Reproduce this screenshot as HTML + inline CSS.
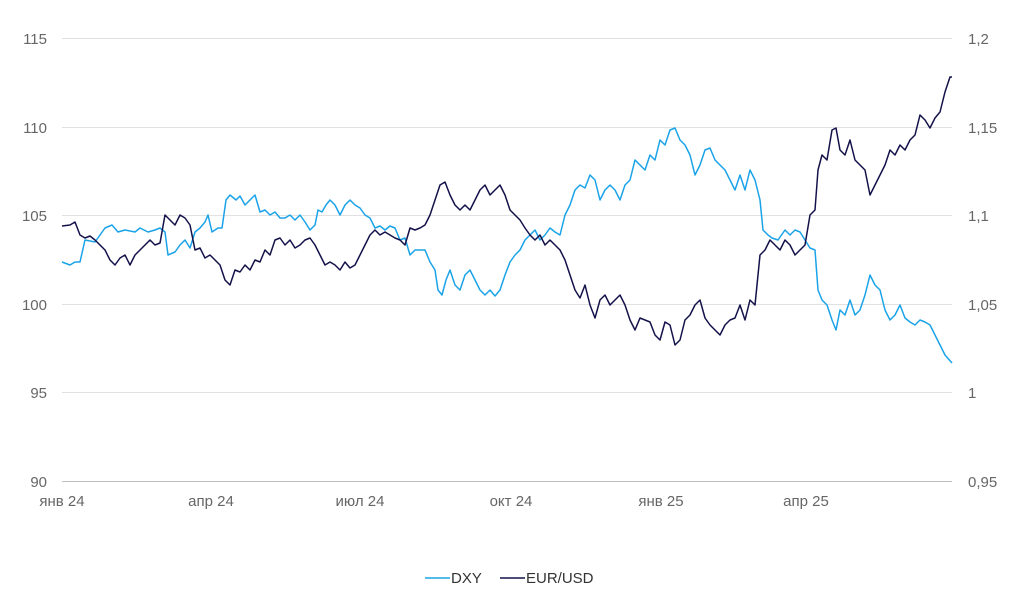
<!DOCTYPE html>
<html><head><meta charset="utf-8"><style>
html,body{margin:0;padding:0;background:#fff;}
svg{display:block;font-family:"Liberation Sans",sans-serif;}
</style></head><body>
<svg width="1024" height="600" viewBox="0 0 1024 600">
<g stroke="#e1e1e1" stroke-width="1">
<line x1="62" x2="952" y1="38.5" y2="38.5"/>
<line x1="62" x2="952" y1="127.5" y2="127.5"/>
<line x1="62" x2="952" y1="215.5" y2="215.5"/>
<line x1="62" x2="952" y1="304.5" y2="304.5"/>
<line x1="62" x2="952" y1="392.5" y2="392.5"/>
</g>
<line x1="62" x2="952" y1="481.5" y2="481.5" stroke="#bfbfbf"/>
<g fill="#666" font-size="15">
<text x="47" y="44" text-anchor="end">115</text>
<text x="47" y="133" text-anchor="end">110</text>
<text x="47" y="221" text-anchor="end">105</text>
<text x="47" y="310" text-anchor="end">100</text>
<text x="47" y="398" text-anchor="end">95</text>
<text x="47" y="487" text-anchor="end">90</text>
<text x="968" y="44">1,2</text>
<text x="968" y="133">1,15</text>
<text x="968" y="221">1,1</text>
<text x="968" y="310">1,05</text>
<text x="968" y="398">1</text>
<text x="968" y="487">0,95</text>
<text x="62" y="506" text-anchor="middle">янв 24</text>
<text x="211" y="506" text-anchor="middle">апр 24</text>
<text x="360" y="506" text-anchor="middle">июл 24</text>
<text x="511" y="506" text-anchor="middle">окт 24</text>
<text x="661" y="506" text-anchor="middle">янв 25</text>
<text x="806" y="506" text-anchor="middle">апр 25</text>
</g>
<polyline fill="none" stroke="#1aa3e8" stroke-width="1.5" stroke-linejoin="round" points="62,262 70,265 75,262 80,262 85,240 95,242 100,235 105,228 112,225 118,232 125,230 135,232 140,228 148,232 155,230 160,228 165,232 168,255 175,252 180,245 185,240 190,248 195,232 200,228 205,222 208,215 212,232 218,228 222,228 226,200 230,195 236,200 240,196 245,205 250,200 255,195 260,212 265,210 270,215 275,212 280,218 285,218 290,215 295,220 300,215 305,222 310,230 315,225 318,210 322,212 326,205 330,200 335,205 340,215 345,205 350,200 355,205 360,208 365,215 370,218 375,228 380,226 385,230 390,226 395,228 400,240 405,238 410,255 415,250 420,250 425,250 430,262 435,270 438,290 442,295 446,280 450,270 455,285 460,290 465,275 470,270 475,280 480,290 485,295 490,290 495,296 500,290 505,275 510,262 515,255 520,250 525,240 530,235 535,230 540,240 545,235 550,228 555,232 560,235 565,215 570,205 575,190 580,185 585,188 590,175 595,180 600,200 605,190 610,185 615,190 620,200 625,185 630,180 635,160 640,165 645,170 650,155 655,160 660,140 665,145 670,130 675,128 680,140 685,145 690,155 695,175 700,165 705,150 710,148 715,160 720,165 725,170 730,180 735,190 740,175 745,190 750,170 755,180 760,200 763,230 768,235 772,238 778,240 785,230 790,235 795,230 800,232 805,240 810,248 815,250 818,290 822,300 827,305 832,320 836,330 840,310 845,315 850,300 855,315 860,310 865,295 870,275 875,285 880,290 885,310 890,320 895,315 900,305 905,318 910,322 915,325 920,320 925,322 930,325 935,335 940,345 945,355 952,363"/>
<polyline fill="none" stroke="#14124a" stroke-width="1.5" stroke-linejoin="round" points="62,226 70,225 75,222 80,235 85,238 90,236 95,240 100,245 105,250 110,260 115,265 120,258 125,255 130,265 135,255 140,250 145,245 150,240 155,245 160,243 165,215 170,220 175,225 180,215 185,218 190,225 195,250 200,248 205,258 210,255 215,260 220,265 225,280 230,285 235,270 240,272 245,265 250,270 255,260 260,262 265,250 270,255 275,240 280,238 285,245 290,240 295,248 300,245 305,240 310,238 315,245 320,255 325,265 330,262 335,265 340,270 345,262 350,268 355,265 360,255 365,245 370,235 375,230 380,235 385,232 390,235 395,238 400,240 405,245 410,228 415,230 420,228 425,225 430,215 435,200 440,185 445,182 450,195 455,205 460,210 465,205 470,210 475,200 480,190 485,185 490,195 495,190 500,185 505,195 510,210 515,215 520,220 525,228 530,235 535,240 540,235 545,245 550,240 555,245 560,250 565,260 570,275 575,290 580,298 585,285 590,305 595,318 600,300 605,295 610,305 615,300 620,295 625,305 630,320 635,330 640,318 645,320 650,322 655,335 660,340 665,322 670,325 675,345 680,340 685,320 690,315 695,305 700,300 705,318 710,325 715,330 720,335 725,325 730,320 735,318 740,305 745,320 750,300 755,305 760,255 765,250 770,240 775,245 780,250 785,240 790,245 795,255 800,250 805,245 810,215 815,210 818,170 822,155 827,160 832,130 836,128 840,150 845,155 850,140 855,160 860,165 865,170 870,195 875,185 880,175 885,165 890,150 895,155 900,145 905,150 910,140 915,135 920,115 925,120 930,128 935,118 940,112 945,92 950,77 952,77"/>
<line x1="425" x2="450" y1="578" y2="578" stroke="#1aa3e8" stroke-width="1.5"/>
<text x="451" y="583" font-size="15" fill="#333">DXY</text>
<line x1="500" x2="525" y1="578" y2="578" stroke="#14124a" stroke-width="1.5"/>
<text x="526" y="583" font-size="15" fill="#333">EUR/USD</text>
</svg>
</body></html>
